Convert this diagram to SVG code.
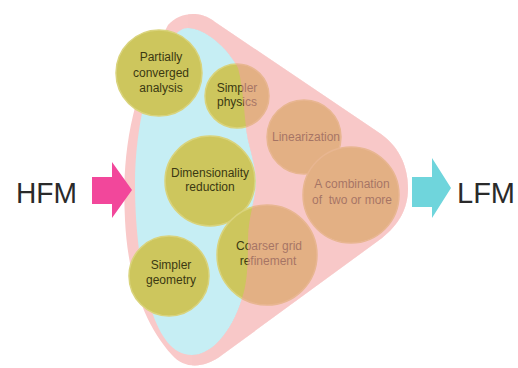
<svg xmlns="http://www.w3.org/2000/svg" width="518" height="368" viewBox="0 0 518 368">
<style>
.lbl{font-family:"Liberation Sans",Arial,sans-serif;font-size:12px;fill:#3b3812;text-anchor:middle}
.big{font-family:"Liberation Sans",Arial,sans-serif;font-size:30px;fill:#2a2a2a}
.c{fill:#cdc65d;stroke:#d9d37c;stroke-width:1.5}
</style>
<defs>
<clipPath id="outerClip"><path d="M168,25 C180,12 200,10 215,22 L378,132 C398,145 408,165 408,188 C408,210 398,225 382,238 L222,355 C205,368 185,370 172,355 C145,325 128,280 125,220 C122,160 128,100 168,25 Z"/></clipPath>
<path id="rightRegion" d="M188,0 L188,28 C205,28 228,48 238,68 C244,90 244,120 248,140 C253,160 256,170 256,182 C256,200 248,215 248,240 C248,265 247,282 243,295 C235,325 215,355 192,355 L192,368 L518,368 L518,0 Z"/>
</defs>
<g id="background">
<path d="M168,25 C180,12 200,10 215,22 L378,132 C398,145 408,165 408,188 C408,210 398,225 382,238 L222,355 C205,368 185,370 172,355 C145,325 128,280 125,220 C122,160 128,100 168,25 Z" fill="#f9c9c9"/>
<use href="#rightRegion" fill="#ffffff" clip-path="url(#outerClip)"/>
<path d="M188,28 C205,28 228,48 238,68 C244,90 244,120 248,140 C253,160 256,170 256,182 C256,200 248,215 248,240 C248,265 247,282 243,295 C235,325 215,355 192,355 C172,355 160,335 152,312 C140,275 135,225 135,185 C135,125 150,65 172,38 C178,31 183,28 188,28 Z" fill="#c6eef4"/>
</g>
<g id="n-partial"><circle class="c" cx="159" cy="73" r="43"/><text class="lbl" x="161" y="61">Partially</text><text class="lbl" x="161" y="77">converged</text><text class="lbl" x="161" y="92">analysis</text></g>
<g id="n-physics"><circle class="c" cx="237" cy="96" r="32"/><text class="lbl" x="237" y="92">Simpler</text><text class="lbl" x="237" y="106">physics</text></g>
<g id="n-dimred"><circle class="c" cx="210" cy="181" r="45"/><text class="lbl" x="210" y="177">Dimensionality</text><text class="lbl" x="210" y="191">reduction</text></g>
<g id="n-geometry"><circle class="c" cx="169" cy="276" r="40"/><text class="lbl" x="171" y="269">Simpler</text><text class="lbl" x="171" y="284">geometry</text></g>
<g id="n-coarser"><circle class="c" cx="267" cy="255" r="50"/><text class="lbl" x="269" y="250">Coarser grid</text><text class="lbl" x="268" y="265">refinement</text></g>
<g id="n-linear"><circle class="c" cx="304" cy="137" r="37"/><text class="lbl" x="306" y="141">Linearization</text></g>
<g id="n-combo"><circle class="c" cx="351" cy="195" r="48"/><text class="lbl" x="352" y="188">A combination</text><text class="lbl" x="352" y="204" style="white-space:pre">of  two or more</text></g>
<g id="overlay"><use href="#rightRegion" fill="#f3a0a0" fill-opacity="0.58" clip-path="url(#outerClip)"/></g>
<g id="n-hfm"><text class="big" x="16" y="203" textLength="61" lengthAdjust="spacingAndGlyphs">HFM</text></g>
<g id="n-lfm"><text class="big" x="457" y="203" textLength="58" lengthAdjust="spacingAndGlyphs">LFM</text></g>
<g id="connectors">
<path d="M92,177 L112,177 L112,162 L132,190 L112,218 L112,204 L92,204 Z" fill="#f2479b"/>
<path d="M412,177 L432,177 L432,158 L451,188 L432,218 L432,207 L412,207 Z" fill="#6fd5dc"/>
</g>
</svg>
